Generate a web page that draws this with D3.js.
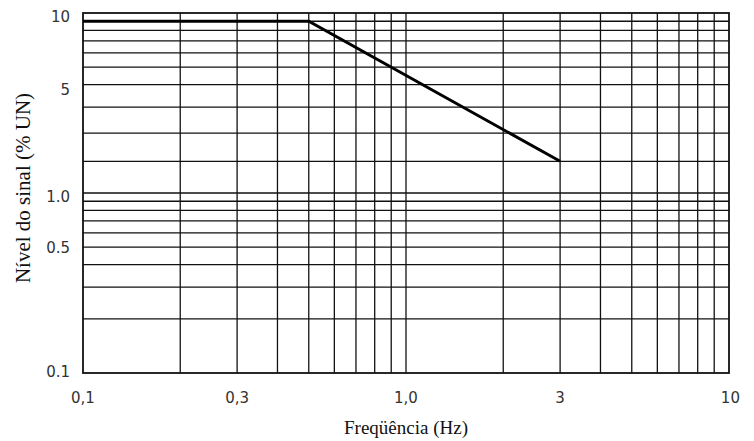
<!DOCTYPE html>
<html>
<head>
<meta charset="utf-8">
<script src="https://cdn.jsdelivr.net/npm/d3@7"></script>
<style>
  body { margin: 0; background: #fff; }
  .tick-label { font-family: "DejaVu Sans", sans-serif; font-size: 15px; fill: #333; }
  .title { font-family: "Liberation Serif", serif; font-size: 19px; fill: #111; }
  .title.y-title { font-size: 21px; }
</style>
</head>
<body>
<div class="chart"></div>
<script>
// curve: signal level vs frequency
var freq = [0.1, 0.5, 3]
var level = [9, 9, 1.5]

// grid lines as drawn on the sheet
var xGrid = [0.2, 0.3, 0.4, 0.5, 0.6, 0.7, 0.8, 0.9, 1, 2, 3, 4, 5, 6, 7, 8, 9]
var yGrid = [0.2, 0.3, 0.4, 0.5, 0.6, 0.7, 0.8, 0.9, 1, 1.5, 2.15, 3, 4, 5, 6, 7, 8, 9]

// tick labels (y labels sit where the sheet prints them)
var xTickText = ["0,1", "0,3", "1,0", "3", "10"]
var xTickAt = [0.1, 0.3, 1, 3, 10.1]
var yTickText = ["10", "5", "1.0", "0.5", "0.1"]
var yTickAt = [9.6, 3.73, 0.95, 0.5, 0.102]

document.addEventListener("DOMContentLoaded", drawChart)

function drawChart() {
  var width = 754,
    height = 441,
    plotLeft = 83, plotRight = 729, plotTop = 13, plotBottom = 373;

  var svg = d3.select(".chart").append("svg")
    .attr("width", width)
    .attr("height", height)

  var x = d3.scaleLog().domain([0.1, 10]).range([plotLeft, plotRight])
  var y = d3.scaleLog().domain([0.1, 10]).range([plotBottom, plotTop])

  var grid = svg.append("g")
    .attr("stroke", "#111")
    .attr("stroke-width", 1.3)

  grid.selectAll(".vx")
    .data(xGrid)
    .enter().append("line")
    .attr("x1", d => x(d)).attr("x2", d => x(d))
    .attr("y1", plotTop).attr("y2", plotBottom)

  grid.selectAll(".hy")
    .data(yGrid)
    .enter().append("line")
    .attr("x1", plotLeft).attr("x2", plotRight)
    .attr("y1", d => y(d)).attr("y2", d => y(d))

  svg.append("rect")
    .attr("x", plotLeft).attr("y", plotTop)
    .attr("width", plotRight - plotLeft).attr("height", plotBottom - plotTop)
    .attr("fill", "none")
    .attr("stroke", "#111")
    .attr("stroke-width", 1.8)

  var line = d3.line()
    .x(d => x(d[0]))
    .y(d => y(d[1]))

  svg.append("path")
    .datum(d3.zip(freq, level))
    .attr("d", line)
    .attr("fill", "none")
    .attr("stroke", "#000")
    .attr("stroke-width", 3)

  svg.selectAll(".xl")
    .data(xTickText)
    .enter().append("text")
    .attr("class", "tick-label")
    .attr("x", (d, i) => x(xTickAt[i]))
    .attr("y", 403)
    .attr("text-anchor", "middle")
    .text(d => d)

  svg.selectAll(".yl")
    .data(yTickText)
    .enter().append("text")
    .attr("class", "tick-label")
    .attr("x", 70)
    .attr("y", (d, i) => y(yTickAt[i]))
    .attr("dy", "0.36em")
    .attr("text-anchor", "end")
    .text(d => d)

  svg.append("text")
    .attr("class", "title")
    .attr("x", x(1))
    .attr("y", 434)
    .attr("text-anchor", "middle")
    .text("Freqüência (Hz)")

  svg.append("text")
    .attr("class", "title y-title")
    .attr("transform", "translate(30,188) rotate(-90)")
    .attr("text-anchor", "middle")
    .text("Nível do sinal (% UN)")
}
</script>
</body>
</html>
